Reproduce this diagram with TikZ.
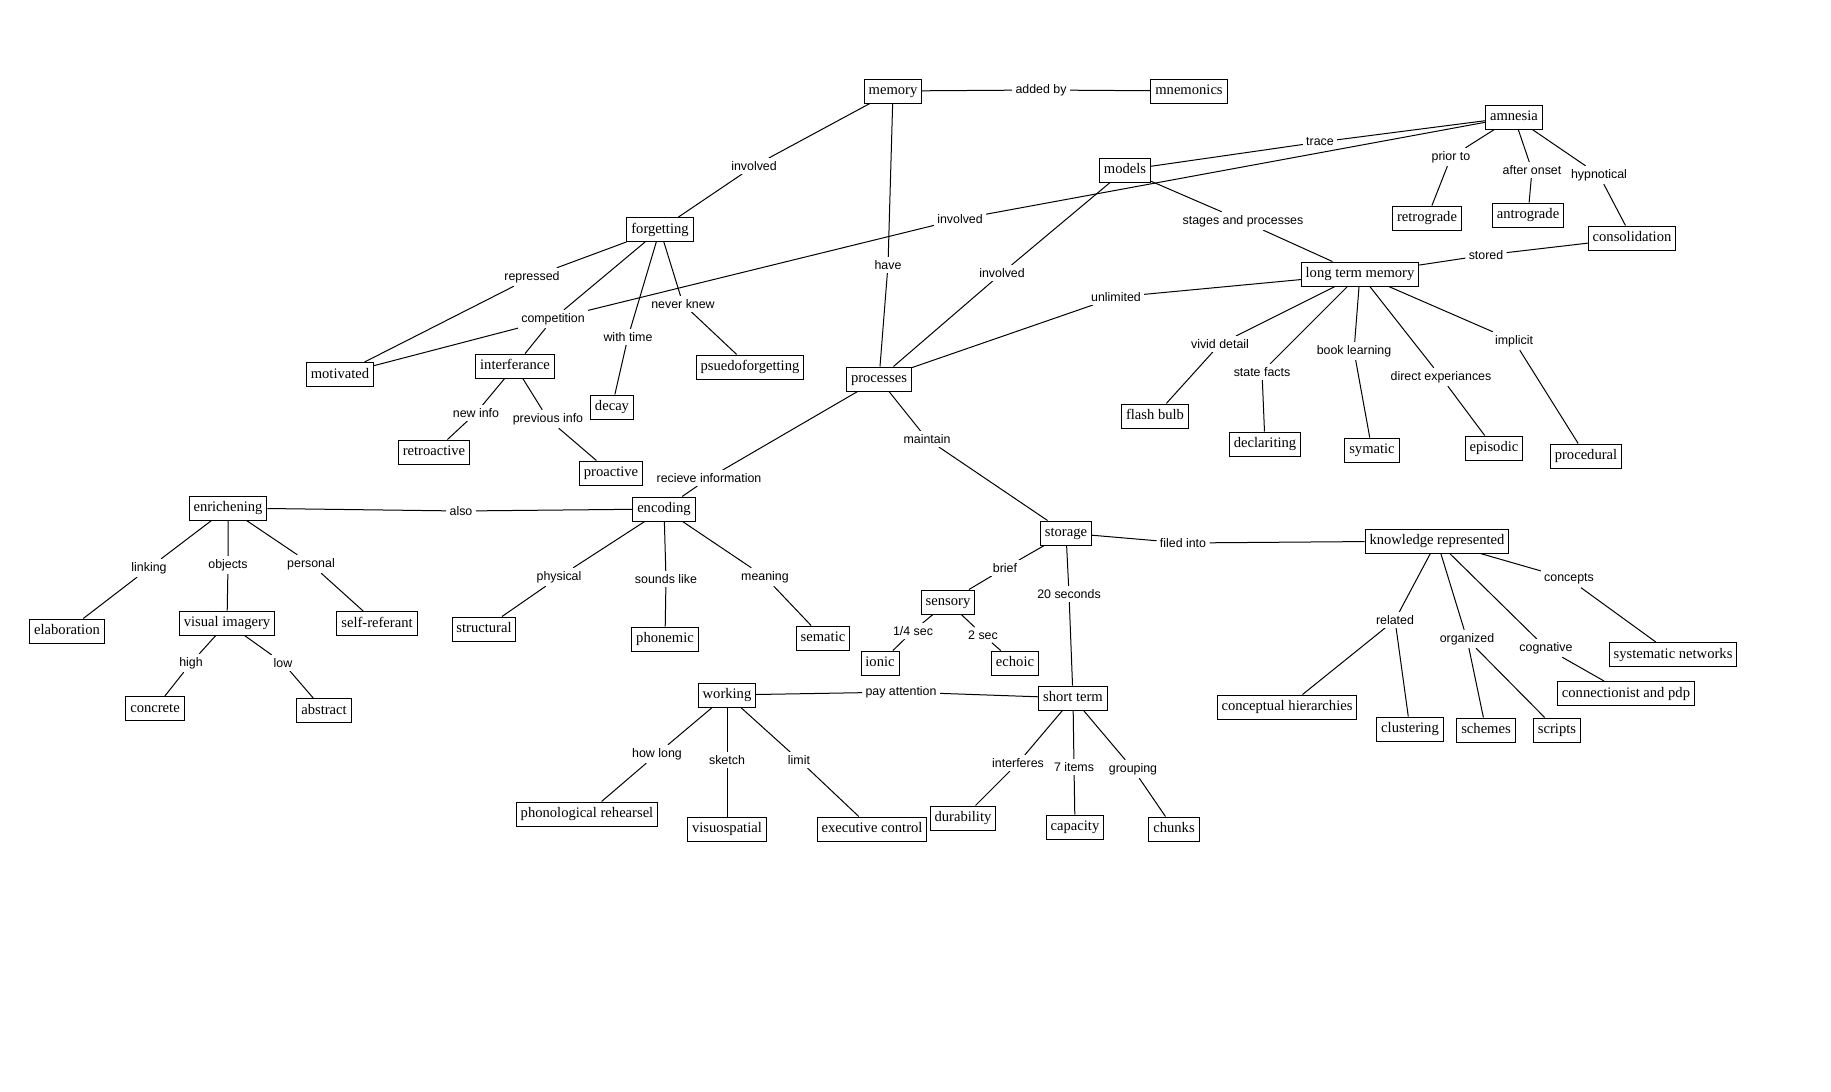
\documentclass[tikz,border=0pt]{standalone}
\usepackage{fontspec}
\newfontfamily\conceptfont{Liberation Serif}
\newfontfamily\phrasefont{Liberation Sans}
\usetikzlibrary{backgrounds}

\begin{document}
\begin{tikzpicture}[
    x=0.5pt,
    y=-0.5pt,
    concept/.style={
        draw=black,
        line width=0.5pt,
        fill=white,
        inner xsep=2.2pt,
        inner ysep=0pt,
        text height=5.6pt,
        text depth=2pt,
        minimum height=12pt,
        font=\conceptfont\fontsize{7.3}{8.5}\selectfont
    },
    phrase/.style={
        fill=white,
        inner sep=1.5pt,
        font=\phrasefont\fontsize{6.2}{7}\selectfont
    },
    link/.style={line width=0.5pt}
]

\useasboundingbox (0,0) rectangle (1831,1092);

% top: memory, amnesia, models
\node[concept] (memory) at (893,91) {memory};
\node[concept] (mnemonics) at (1189,91) {mnemonics};
\node[concept] (amnesia) at (1514,117) {amnesia};
\node[concept] (models) at (1125,170) {models};
\node[concept] (retrograde) at (1427,218) {retrograde};
\node[concept] (antrograde) at (1528,215) {antrograde};
\node[concept] (consol) at (1632,238) {consolidation};
\node[concept] (ltm) at (1360,274) {long term memory};
\node[concept] (processes) at (879,379) {processes};

% forgetting branch
\node[concept] (forgetting) at (660,229.5) {forgetting};
\node[concept] (motivated) at (340,374.5) {motivated};
\node[concept] (interf) at (515,366) {interferance};
\node[concept] (pseudo) at (750,367) {psuedoforgetting};
\node[concept] (decay) at (612,407) {decay};
\node[concept] (retro) at (434,452) {retroactive};
\node[concept] (pro) at (611,473) {proactive};

% kinds of long term memory
\node[concept] (flash) at (1155,416) {flash bulb};
\node[concept] (declar) at (1265,444) {declariting};
\node[concept] (symatic) at (1372,450) {symatic};
\node[concept] (episodic) at (1494,448) {episodic};
\node[concept] (procedural) at (1586,456) {procedural};

% encoding branch
\node[concept] (enrich) at (228,508) {enrichening};
\node[concept] (encoding) at (664,509) {encoding};
\node[concept] (elab) at (67,631) {elaboration};
\node[concept] (visual) at (227,623) {visual imagery};
\node[concept] (selfref) at (377,623.5) {self-referant};
\node[concept] (concrete) at (155,708.5) {concrete};
\node[concept] (abstract) at (324,710.5) {abstract};
\node[concept] (structural) at (484,629) {structural};
\node[concept] (phonemic) at (665,639) {phonemic};
\node[concept] (sematic) at (823,638) {sematic};

% storage branch
\node[concept] (storage) at (1066,533) {storage};
\node[concept] (sensory) at (948,602) {sensory};
\node[concept] (ionic) at (880,663) {ionic};
\node[concept] (echoic) at (1015,663) {echoic};
\node[concept] (shortterm) at (1073,698) {short term};
\node[concept] (working) at (727,695) {working};
\node[concept] (phono) at (587,814) {phonological rehearsel};
\node[concept] (visuo) at (727,829) {visuospatial};
\node[concept] (exec) at (872,829) {executive control};
\node[concept] (durability) at (963,818) {durability};
\node[concept] (capacity) at (1075,827) {capacity};
\node[concept] (chunks) at (1174,829) {chunks};

% knowledge branch
\node[concept] (knowledge) at (1437,541) {knowledge represented};
\node[concept] (hierarch) at (1287,707) {conceptual hierarchies};
\node[concept] (clustering) at (1410,729) {clustering};
\node[concept] (schemes) at (1486,730) {schemes};
\node[concept] (scripts) at (1557,730) {scripts};
\node[concept] (connect) at (1626,693.5) {connectionist and pdp};
\node[concept] (sysnet) at (1673,654.5) {systematic networks};

% linking phrases
\node[phrase] (laddedby) at (1041,90) {added by};
\node[phrase] (linvolvedA) at (754,166) {involved};
\node[phrase] (lhave) at (888,265) {have};
\node[phrase] (ltrace) at (1320,142) {trace};
\node[phrase] (linvolvedB) at (960,219) {involved};
\node[phrase] (linvolvedC) at (1002,273) {involved};
\node[phrase] (lstages) at (1243,221) {stages and processes};
\node[phrase] (lunlimited) at (1116,297) {unlimited};
\node[phrase] (lpriorto) at (1451,157) {prior to};
\node[phrase] (lafteronset) at (1532,170) {after onset};
\node[phrase] (lhypno) at (1599,175) {hypnotical};
\node[phrase] (lstored) at (1486,255) {stored};
\node[phrase] (lvivid) at (1220,344) {vivid detail};
\node[phrase] (lstate) at (1262,372) {state facts};
\node[phrase] (lbook) at (1354,351) {book learning};
\node[phrase] (ldirect) at (1441,377) {direct experiances};
\node[phrase] (limplicit) at (1514,341) {implicit};
\node[phrase] (lrepressed) at (532,277) {repressed};
\node[phrase] (lcompet) at (553,319) {competition};
\node[phrase] (lwithtime) at (628,337) {with time};
\node[phrase] (lneverknew) at (683,304) {never knew};
\node[phrase] (lnewinfo) at (476,413) {new info};
\node[phrase] (lprevinfo) at (548,419) {previous info};
\node[phrase] (lrecieve) at (709,478) {recieve information};
\node[phrase] (lmaintain) at (927,439) {maintain};
\node[phrase] (lalso) at (461,511) {also};
\node[phrase] (lphysical) at (559,577) {physical};
\node[phrase] (lsounds) at (666,579) {sounds like};
\node[phrase] (lmeaning) at (765,577) {meaning};
\node[phrase] (llinking) at (149,568) {linking};
\node[phrase] (lobjects) at (228,565) {objects};
\node[phrase] (lpersonal) at (311,564) {personal};
\node[phrase] (lhigh) at (191,663) {high};
\node[phrase] (llow) at (283,663) {low};
\node[phrase] (lbrief) at (1005,568) {brief};
\node[phrase] (ltwenty) at (1069,594) {20 seconds};
\node[phrase] (lfiled) at (1183,543) {filed into};
\node[phrase] (lquarter) at (913,631) {1/4 sec};
\node[phrase] (ltwosec) at (983,635) {2 sec};
\node[phrase] (lpay) at (901,692) {pay attention};
\node[phrase] (lhowlong) at (657,754) {how long};
\node[phrase] (lsketch) at (727,760) {sketch};
\node[phrase] (llimit) at (799,760) {limit};
\node[phrase] (linterferes) at (1018,763) {interferes};
\node[phrase] (lseven) at (1074,767) {7 items};
\node[phrase] (lgrouping) at (1133,769) {grouping};
\node[phrase] (lrelated) at (1395,620) {related};
\node[phrase] (lorganized) at (1467,639) {organized};
\node[phrase] (lcognative) at (1546,648) {cognative};
\node[phrase] (lconcepts) at (1569,579) {concepts};

% connectors
\begin{scope}[on background layer]
\draw[link] (memory) -- (laddedby) -- (mnemonics);
\draw[link] (memory) -- (linvolvedA) -- (forgetting);
\draw[link] (memory) -- (lhave) -- (processes);
\draw[link] (amnesia) -- (ltrace) -- (models);
\draw[link] (amnesia) -- (linvolvedB) -- (lcompet);
\draw[link] (models) -- (linvolvedC) -- (processes);
\draw[link] (models) -- (lstages) -- (ltm);
\draw[link] (amnesia) -- (lpriorto) -- (retrograde);
\draw[link] (amnesia) -- (lafteronset) -- (antrograde);
\draw[link] (amnesia) -- (lhypno) -- (consol);
\draw[link] (consol) -- (lstored) -- (ltm);
\draw[link] (ltm) -- (lunlimited) -- (processes);
\draw[link] (ltm) -- (lvivid) -- (flash);
\draw[link] (ltm) -- (lstate) -- (declar);
\draw[link] (ltm) -- (lbook) -- (symatic);
\draw[link] (ltm) -- (ldirect) -- (episodic);
\draw[link] (ltm) -- (limplicit) -- (procedural);
\draw[link] (forgetting) -- (lrepressed) -- (motivated);
\draw[link] (forgetting) -- (lcompet) -- (interf);
\draw[link] (lcompet) -- (motivated);
\draw[link] (forgetting) -- (lwithtime) -- (decay);
\draw[link] (forgetting) -- (lneverknew) -- (pseudo);
\draw[link] (interf) -- (lnewinfo) -- (retro);
\draw[link] (interf) -- (lprevinfo) -- (pro);
\draw[link] (processes) -- (lrecieve) -- (encoding);
\draw[link] (processes) -- (lmaintain) -- (storage);
\draw[link] (enrich) -- (lalso) -- (encoding);
\draw[link] (encoding) -- (lphysical) -- (structural);
\draw[link] (encoding) -- (lsounds) -- (phonemic);
\draw[link] (encoding) -- (lmeaning) -- (sematic);
\draw[link] (enrich) -- (llinking) -- (elab);
\draw[link] (enrich) -- (lobjects) -- (visual);
\draw[link] (enrich) -- (lpersonal) -- (selfref);
\draw[link] (visual) -- (lhigh) -- (concrete);
\draw[link] (visual) -- (llow) -- (abstract);
\draw[link] (storage) -- (lbrief) -- (sensory);
\draw[link] (storage) -- (ltwenty) -- (shortterm);
\draw[link] (storage) -- (lfiled) -- (knowledge);
\draw[link] (sensory) -- (lquarter) -- (ionic);
\draw[link] (sensory) -- (ltwosec) -- (echoic);
\draw[link] (working) -- (lpay) -- (shortterm);
\draw[link] (working) -- (lhowlong) -- (phono);
\draw[link] (working) -- (lsketch) -- (visuo);
\draw[link] (working) -- (llimit) -- (exec);
\draw[link] (shortterm) -- (linterferes) -- (durability);
\draw[link] (shortterm) -- (lseven) -- (capacity);
\draw[link] (shortterm) -- (lgrouping) -- (chunks);
\draw[link] (knowledge) -- (lrelated) -- (hierarch);
\draw[link] (lrelated) -- (clustering);
\draw[link] (knowledge) -- (lorganized) -- (schemes);
\draw[link] (lorganized) -- (scripts);
\draw[link] (knowledge) -- (lcognative) -- (connect);
\draw[link] (knowledge) -- (lconcepts) -- (sysnet);
\end{scope}

\end{tikzpicture}
\end{document}
